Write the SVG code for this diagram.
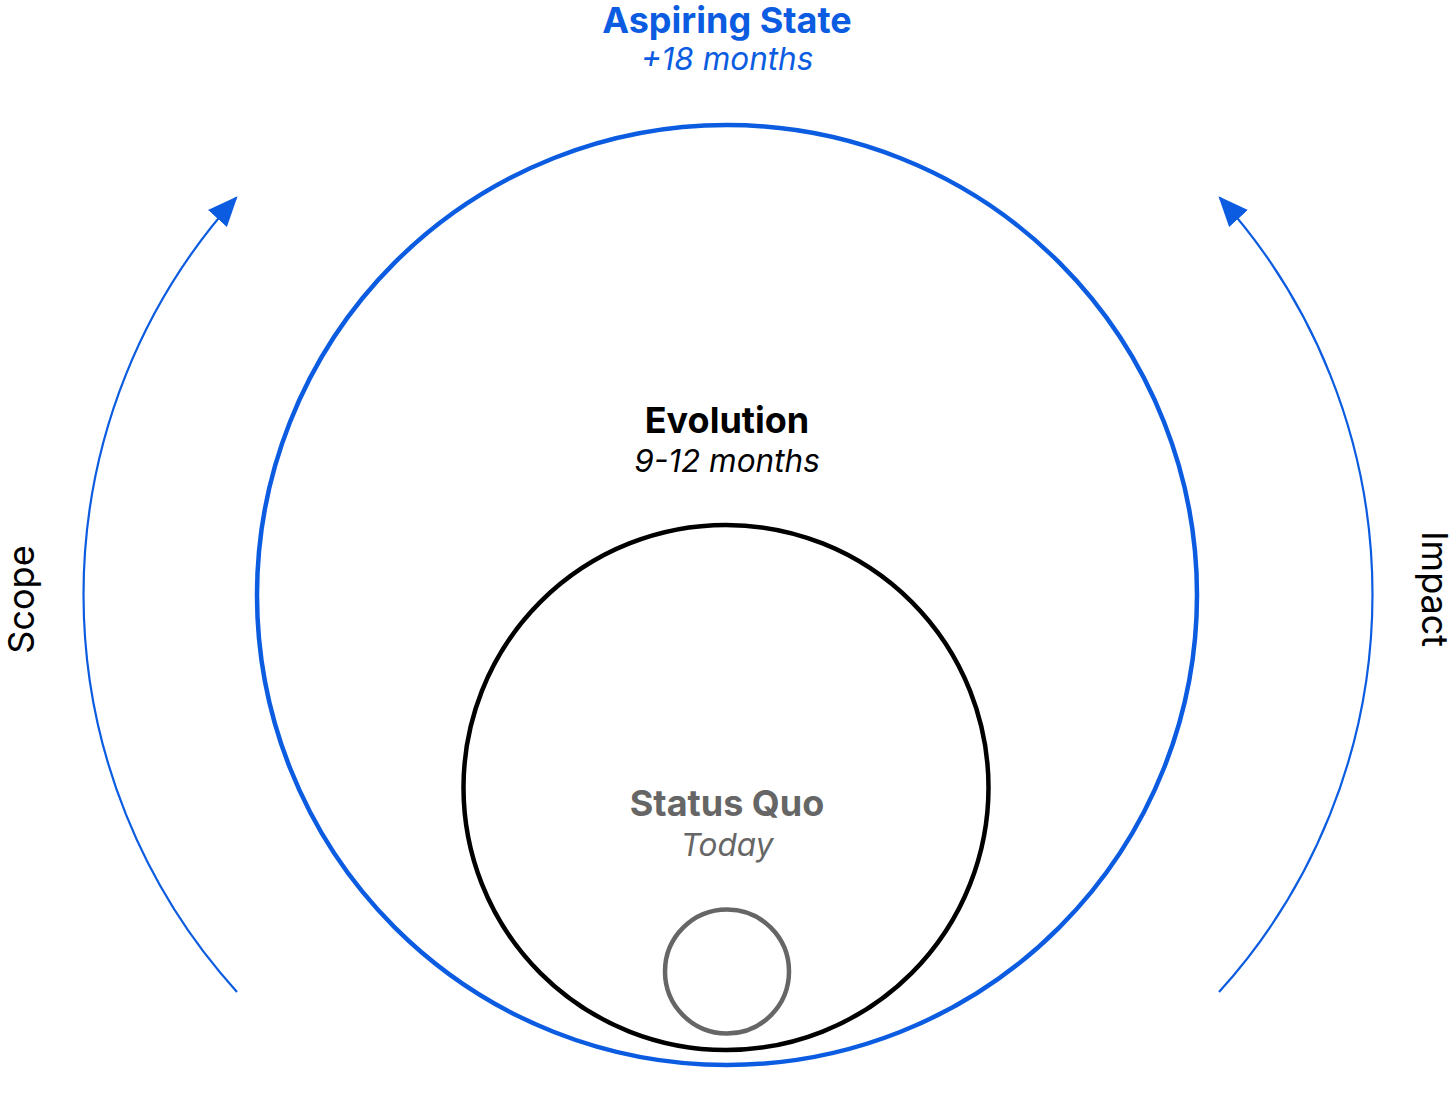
<svg xmlns="http://www.w3.org/2000/svg" width="1456" height="1098" viewBox="0 0 1456 1098">
<style>
text{font-family:Inter,"Liberation Sans",sans-serif;text-anchor:middle}
.t{font-weight:700;font-size:36px}
.s{font-style:italic;font-size:31.5px}
.side{font-size:36px;fill:#000}
.arc{fill:none;stroke:#0b5ce1;stroke-width:2.2}
</style>
<defs>
<marker id="ah" markerUnits="userSpaceOnUse" markerWidth="30" markerHeight="30" viewBox="0 0 26 22" refX="24" refY="11" orient="auto">
<path d="M0 0 L26 11 L0 22 Z" fill="#0b5ce1"/>
</marker>
</defs>
<rect width="1456" height="1098" fill="#fff"/>
<g id="connectors">
<path class="arc" d="M237 992 A591.6 591.6 0 0 1 236 198" marker-end="url(#ah)"/>
<path class="arc" d="M1219 992 A591.6 591.6 0 0 0 1220 198" marker-end="url(#ah)"/>
</g>
<g id="aspiring">
<circle cx="727" cy="595" r="470" fill="none" stroke="#0b5ce1" stroke-width="4.5"/>
<text class="t" x="727" y="32.5" fill="#0b5ce1">Aspiring State</text>
<text class="s" x="727" y="70" fill="#0b5ce1">+18 months</text>
</g>
<g id="evolution">
<circle cx="726" cy="787.5" r="262.5" fill="none" stroke="#000" stroke-width="4.5"/>
<text class="t" x="727" y="433" fill="#000">Evolution</text>
<text class="s" x="727" y="472" fill="#000">9-12 months</text>
</g>
<g id="statusquo">
<circle cx="727" cy="971.5" r="62" fill="none" stroke="#666" stroke-width="4.5"/>
<text class="t" x="727" y="816" fill="#666">Status Quo</text>
<text class="s" x="727" y="856" fill="#666">Today</text>
</g>
<g id="scope">
<text class="side" transform="translate(34 599.5) rotate(-90)">Scope</text>
</g>
<g id="impact">
<text class="side" transform="translate(1422 589) rotate(90)">Impact</text>
</g>
</svg>
